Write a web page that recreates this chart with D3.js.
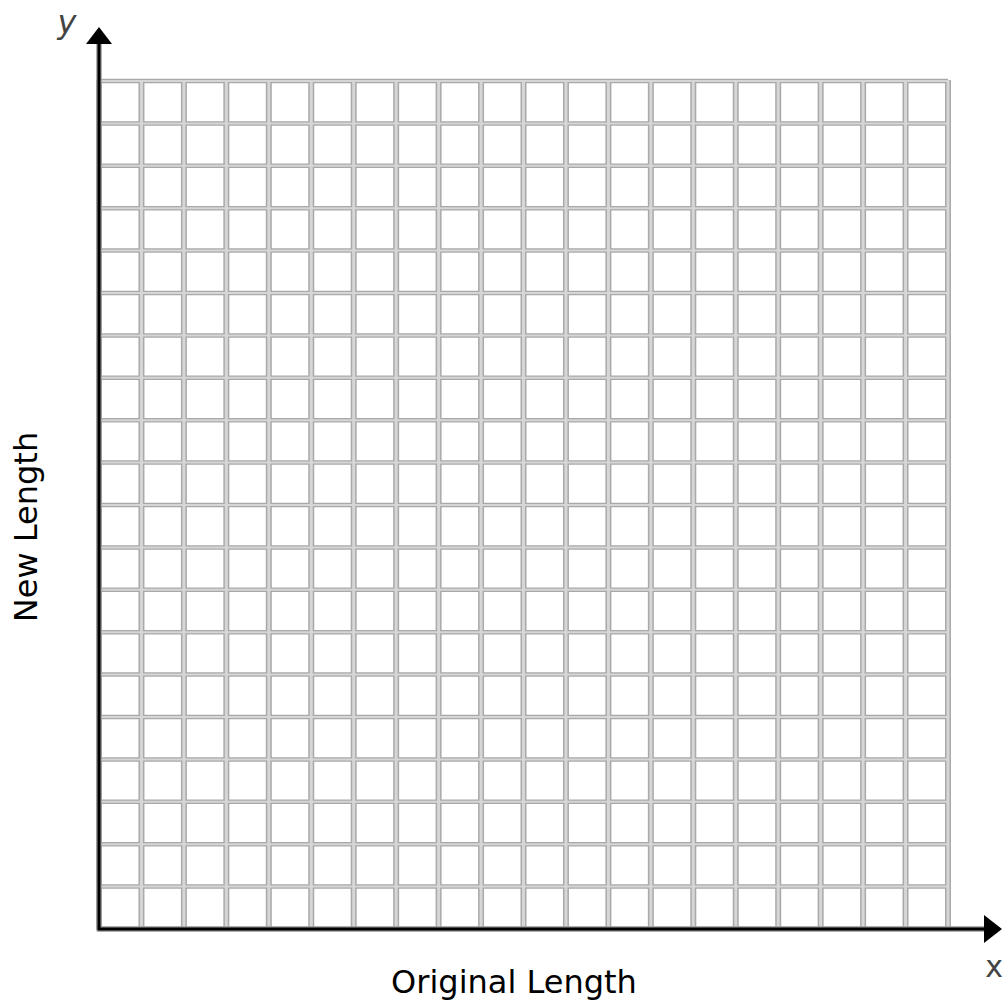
<!DOCTYPE html>
<html><head><meta charset="utf-8">
<script src="https://cdn.jsdelivr.net/npm/d3@7"></script>
<style>html,body{margin:0;padding:0;background:#fff;overflow:hidden}</style>
</head><body>
<script>
// Grid tick values (blank coordinate grid, 20 x 20 squares)
const xTicks = [0,1,2,3,4,5,6,7,8,9,10,11,12,13,14,15,16,17,18,19,20];
const yTicks = [0,1,2,3,4,5,6,7,8,9,10,11,12,13,14,15,16,17,18,19,20];
const xTitle = "Original Length";
const yTitle = "New Length";
const xAxisLetter = "x";
const yAxisLetter = "y";

const W = 1004, H = 1000;
const svg = d3.select("body").append("svg").attr("width", W).attr("height", H);

const x = d3.scaleLinear().domain([0, 20]).range([99, 948]);
const y = d3.scaleLinear().domain([0, 20]).range([929, 81]);

const grid = svg.append("g");
function drawGrid(stroke, wv, wh) {
  grid.selectAll(null).data(yTicks).enter().append("line")
    .attr("x1", x(0)).attr("x2", x(20))
    .attr("y1", d => y(d)).attr("y2", d => y(d))
    .attr("stroke", stroke).attr("stroke-width", wh);
  grid.selectAll(null).data(xTicks).enter().append("line")
    .attr("x1", d => x(d)).attr("x2", d => x(d))
    .attr("y1", y(0)).attr("y2", y(20) - 1)
    .attr("stroke", stroke).attr("stroke-width", wv);
}
drawGrid("#a9a9a9", 6, 4.5);
drawGrid("#d6d6d6", 3, 2);

// Axes with arrows
const ax = svg.append("g");
ax.append("line").attr("x1", x(0) - 2).attr("x2", 985).attr("y1", y(0)).attr("y2", y(0))
  .attr("stroke", "#999").attr("stroke-width", 5.5);
ax.append("line").attr("x1", x(0)).attr("x2", x(0)).attr("y1", y(0) + 2).attr("y2", 44)
  .attr("stroke", "#999").attr("stroke-width", 5.5);
ax.append("line").attr("x1", x(0) - 1).attr("x2", 985).attr("y1", y(0)).attr("y2", y(0))
  .attr("stroke", "#000").attr("stroke-width", 3);
ax.append("line").attr("x1", x(0)).attr("x2", x(0)).attr("y1", y(0) + 1).attr("y2", 44)
  .attr("stroke", "#000").attr("stroke-width", 3);
ax.append("path").attr("d", `M${x(0)-13},44 L${x(0)},27 L${x(0)+13},44 Z`).attr("fill", "#000");
ax.append("path").attr("d", `M984,${y(0)-14} L1002,${y(0)} L984,${y(0)+14} Z`).attr("fill", "#000");

// axis letters
svg.append("text").attr("x", 67).attr("y", 33).attr("text-anchor", "middle")
  .attr("font-family", "DejaVu Sans, Verdana, sans-serif").attr("font-size", 32)
  .attr("font-style", "italic").attr("fill", "#444").text(yAxisLetter);
svg.append("text").attr("x", 1003).attr("y", 977).attr("text-anchor", "end")
  .attr("font-family", "DejaVu Sans, Verdana, sans-serif").attr("font-size", 30)
  .attr("fill", "#444").text(xAxisLetter);

// titles
svg.append("text").attr("x", 514).attr("y", 993).attr("text-anchor", "middle")
  .attr("font-family", "DejaVu Sans, Verdana, sans-serif").attr("font-size", 32)
  .attr("fill", "#000").text(xTitle);
svg.append("text").attr("transform", "translate(37,527) rotate(-90)").attr("text-anchor", "middle")
  .attr("font-family", "DejaVu Sans, Verdana, sans-serif").attr("font-size", 32)
  .attr("fill", "#000").text(yTitle);
</script>
</body></html>
